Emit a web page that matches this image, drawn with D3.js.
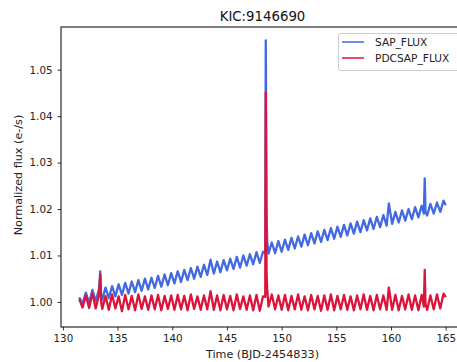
<!DOCTYPE html>
<html>
<head>
<meta charset="utf-8">
<script src="https://cdn.jsdelivr.net/npm/d3@7.9.0/dist/d3.min.js"></script>
<style>
  html, body { margin: 0; padding: 0; background: #fff; overflow: hidden; }
  svg { display: block; font-family: "DejaVu Sans", sans-serif; }
</style>
</head>
<body>
<svg id="chart" width="457" height="362"></svg>
<script>
// light curve (time in BJD-2454833)
const times = [
  131.5, 131.8, 132.1, 132.4, 132.7, 133.0, 133.3, 133.42, 133.5, 133.6,
  133.9, 134.2, 134.5, 134.8, 135.1, 135.4, 135.7, 136.0, 136.3, 136.6,
  136.9, 137.2, 137.5, 137.8, 138.1, 138.4, 138.7, 139.0, 139.3, 139.6,
  139.9, 140.2, 140.5, 140.8, 141.1, 141.4, 141.7, 142.0, 142.3, 142.6,
  142.9, 143.2, 143.5, 143.8, 144.1, 144.4, 144.7, 145.0, 145.3, 145.6,
  145.9, 146.2, 146.5, 146.8, 147.1, 147.4, 147.7, 148.0, 148.3, 148.5,
  148.55, 148.62, 148.68, 148.8, 149.1, 149.4, 149.7, 150.0, 150.3, 150.6,
  150.9, 151.2, 151.5, 151.8, 152.1, 152.4, 152.7, 153.0, 153.3, 153.6,
  153.9, 154.2, 154.5, 154.8, 155.1, 155.4, 155.7, 156.0, 156.3, 156.6,
  156.9, 157.2, 157.5, 157.8, 158.1, 158.4, 158.7, 159.0, 159.3, 159.6,
  159.8, 160.1, 160.4, 160.7, 161.0, 161.3, 161.6, 161.9, 162.2, 162.5,
  162.8, 163.0, 163.08, 163.15, 163.3, 163.6, 163.9, 164.2, 164.5, 164.8,
  165.0
];

const sapFlux = [
  1.0010, 0.9996, 1.0020, 0.9998, 1.0026, 1.0002, 1.0027, 1.0066, 1.0010, 1.0005,
  1.0031, 1.0008, 1.0034, 1.0012, 1.0038, 1.0015, 1.0041, 1.0018, 1.0044, 1.0021,
  1.0047, 1.0024, 1.0050, 1.0027, 1.0052, 1.0030, 1.0056, 1.0033, 1.0059, 1.0036,
  1.0062, 1.0040, 1.0066, 1.0043, 1.0069, 1.0047, 1.0073, 1.0050, 1.0076, 1.0054,
  1.0080, 1.0058, 1.0091, 1.0061, 1.0087, 1.0064, 1.0090, 1.0068, 1.0093, 1.0071,
  1.0097, 1.0074, 1.0100, 1.0078, 1.0103, 1.0081, 1.0107, 1.0084, 1.0108, 1.0105,
  1.0563, 1.0195, 1.0130, 1.0104, 1.0128, 1.0105, 1.0131, 1.0108, 1.0134, 1.0112,
  1.0138, 1.0115, 1.0141, 1.0119, 1.0145, 1.0122, 1.0148, 1.0126, 1.0152, 1.0129,
  1.0155, 1.0133, 1.0159, 1.0136, 1.0162, 1.0140, 1.0166, 1.0143, 1.0169, 1.0147,
  1.0173, 1.0150, 1.0176, 1.0154, 1.0180, 1.0157, 1.0183, 1.0161, 1.0187, 1.0164,
  1.0212, 1.0168, 1.0194, 1.0171, 1.0197, 1.0175, 1.0200, 1.0178, 1.0204, 1.0182,
  1.0207, 1.0190, 1.0266, 1.0195, 1.0186, 1.0211, 1.0190, 1.0214, 1.0194, 1.0218,
  1.0208
];

const pdcsapFlux = [
  1.0006, 0.9988, 1.0014, 0.9987, 1.0019, 0.9986, 1.0015, 1.0058, 1.0000, 0.9985,
  1.0013, 0.9983, 1.0016, 0.9986, 1.0012, 0.9980, 1.0015, 0.9984, 1.0013, 0.9982,
  1.0016, 0.9985, 1.0012, 0.9983, 1.0014, 0.9984, 1.0015, 0.9982, 1.0013, 0.9985,
  1.0014, 0.9983, 1.0015, 0.9984, 1.0013, 0.9982, 1.0016, 0.9985, 1.0012, 0.9983,
  1.0014, 0.9984, 1.0023, 0.9983, 1.0014, 0.9982, 1.0015, 0.9984, 1.0013, 0.9982,
  1.0016, 0.9985, 1.0012, 0.9983, 1.0014, 0.9982, 1.0015, 0.9981, 1.0012, 1.0011,
  1.0451, 1.0062, 1.0028, 0.9990, 1.0016, 0.9984, 1.0014, 0.9983, 1.0015, 0.9982,
  1.0013, 0.9984, 1.0016, 0.9983, 1.0012, 0.9982, 1.0015, 0.9984, 1.0013, 0.9981,
  1.0014, 0.9983, 1.0016, 0.9982, 1.0013, 0.9984, 1.0015, 0.9983, 1.0012, 0.9982,
  1.0014, 0.9984, 1.0016, 0.9983, 1.0013, 0.9982, 1.0015, 0.9984, 1.0014, 0.9983,
  1.0031, 0.9983, 1.0015, 0.9982, 1.0013, 0.9984, 1.0016, 0.9983, 1.0014, 0.9982,
  1.0015, 0.9990, 1.0069, 0.9995, 0.9983, 1.0014, 0.9984, 1.0016, 0.9986, 1.0018,
  1.0010
];

const seriesNames = ['SAP_FLUX', 'PDCSAP_FLUX'];
const seriesColors = ['#4169e1', '#dc143c'];
const xTicks = [130, 135, 140, 145, 150, 155, 160, 165];
const yTicks = [1.00, 1.01, 1.02, 1.03, 1.04, 1.05];

const svg = d3.select('#chart');
const m = { left: 61, top: 27, right: 464, bottom: 327 };

// matplotlib style 5% margins
const x = d3.scaleLinear().domain([129.83, 166.67]).range([m.left, m.right]);
const y = d3.scaleLinear().domain([0.9946, 1.0592]).range([m.bottom, m.top]);

svg.append('defs').append('clipPath').attr('id', 'plotclip')
  .append('rect').attr('x', m.left).attr('y', m.top)
  .attr('width', m.right - m.left).attr('height', m.bottom - m.top);

const line = d3.line().x(d => x(d[0])).y(d => y(d[1]));

const plot = svg.append('g').attr('clip-path', 'url(#plotclip)');
[sapFlux, pdcsapFlux].forEach((vals, k) => {
  plot.append('path')
    .datum(times.map((t, i) => [t, vals[i]]))
    .attr('d', line)
    .attr('fill', 'none')
    .attr('stroke', seriesColors[k])
    .attr('stroke-width', 2.3)
    .attr('stroke-linejoin', 'round');
});

// axes
const xAxis = svg.append('g')
  .attr('transform', `translate(0,${m.bottom})`)
  .call(d3.axisBottom(x).tickValues(xTicks).tickSize(3.5).tickPadding(4).tickFormat(d3.format('d')));
const yAxis = svg.append('g')
  .attr('transform', `translate(${m.left},0)`)
  .call(d3.axisLeft(y).tickValues(yTicks).tickSize(3.5).tickPadding(5).tickFormat(d3.format('.2f')));

[xAxis, yAxis].forEach(g => {
  g.select('.domain').remove();
  g.selectAll('text').attr('font-size', 10.3).attr('fill', '#222').attr('font-family', '"DejaVu Sans", sans-serif');
  g.selectAll('line').attr('stroke', '#000').attr('stroke-width', 0.8);
});

// spines
svg.append('rect')
  .attr('x', m.left).attr('y', m.top)
  .attr('width', m.right - m.left).attr('height', m.bottom - m.top)
  .attr('fill', 'none').attr('stroke', '#000').attr('stroke-width', 1);

// title and labels
svg.append('text')
  .attr('x', (m.left + m.right) / 2).attr('y', 20.5)
  .attr('text-anchor', 'middle').attr('font-size', 13.3).attr('fill', '#111')
  .text('KIC:9146690');

svg.append('text')
  .attr('x', (m.left + m.right) / 2).attr('y', 358)
  .attr('text-anchor', 'middle').attr('font-size', 11.2).attr('fill', '#222')
  .text('Time (BJD-2454833)');

svg.append('text')
  .attr('transform', `translate(21.5,${175}) rotate(-90)`)
  .attr('text-anchor', 'middle').attr('font-size', 11.2).attr('fill', '#222')
  .text('Normalized flux (e-/s)');

// legend
const legend = svg.append('g');
legend.append('rect')
  .attr('x', 338.5).attr('y', 33.5).attr('width', 121).attr('height', 37)
  .attr('rx', 2.5)
  .attr('fill', '#fff').attr('fill-opacity', 0.8)
  .attr('stroke', '#ccc').attr('stroke-width', 1);

seriesNames.forEach((name, k) => {
  const ly = 42 + k * 16;
  legend.append('line')
    .attr('x1', 342).attr('x2', 364).attr('y1', ly).attr('y2', ly)
    .attr('stroke', seriesColors[k]).attr('stroke-width', 1.5);
  legend.append('text')
    .attr('x', 375).attr('y', ly + 3.8)
    .attr('font-size', 10.6).attr('fill', '#222')
    .text(name);
});
</script>
</body>
</html>
